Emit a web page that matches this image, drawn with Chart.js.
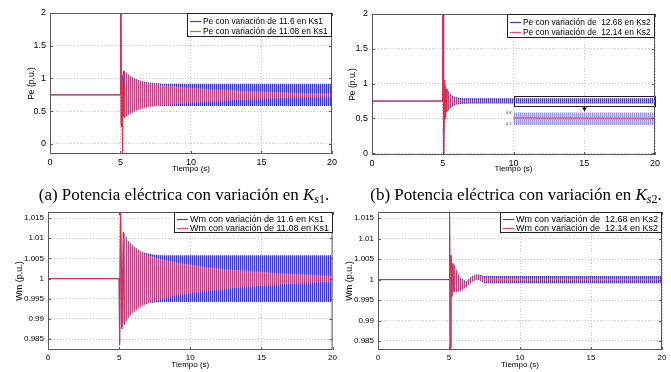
<!DOCTYPE html>
<html><head><meta charset="utf-8">
<script src="https://cdn.jsdelivr.net/npm/chart.js@4"></script>
<style>
html,body{margin:0;padding:0;background:#fff;width:671px;height:372px;overflow:hidden;}
canvas{position:absolute;}
.cap{position:absolute;font-family:"Liberation Serif","DejaVu Serif",serif;font-size:17px;color:#000;white-space:nowrap;transform:translateX(-50%);line-height:20px;}
.cap sub{font-size:12px;vertical-align:-3px;line-height:0;}
</style></head><body>
<canvas id="c1" width="340" height="176" style="left:0;top:0"></canvas>
<canvas id="c2" width="331" height="176" style="left:340px;top:0"></canvas>
<canvas id="c3" width="340" height="172" style="left:0;top:200px"></canvas>
<canvas id="c4" width="331" height="172" style="left:340px;top:200px"></canvas>
<div class="cap" style="left:184px;top:185px">(a) Potencia eléctrica con variación en <i>K</i><sub><i>s</i>1</sub>.</div>
<div class="cap" style="left:516px;top:185px">(b) Potencia eléctrica con variación en <i>K</i><sub><i>s</i>2</sub>.</div>
<script>
// ---------- axes ----------
const xTicks = [0, 5, 10, 15, 20];
const xTickLabels = ['0', '5', '10', '15', '20'];
const yTicksPe = [0, 0.5, 1, 1.5, 2];
const yTickLabelsPe = ['0', '0.5', '1', '1.5', '2'];
const yTicksWm = [0.985, 0.99, 0.995, 1, 1.005, 1.01, 1.015];
const yTickLabelsWm = ['0.985', '0.99', '0.995', '1', '1.005', '1.01', '1.015'];

// ---------- (a) Pe, Ks1 ----------
const peKs1Labels = ['Pe con variación de 11.6 en Ks1', 'Pe con variación de 11.08 en Ks1'];
const peKs1BlueSpikeT = [0, 5.0, 5.02, 5.05, 5.1, 5.15, 5.2, 5.25];
const peKs1BlueSpikeV = [0.75, 0.75, 2.3, 0.3, 1.05, 0.45, 1.1, 0.4];
const peKs1BlueBandT = [5.25, 5.6, 6, 6.5, 7, 7.5, 8, 20];
const peKs1BlueUpper = [1.12, 1.05, 1.0, 0.96, 0.94, 0.93, 0.92, 0.92];
const peKs1BlueLower = [0.4, 0.45, 0.5, 0.55, 0.57, 0.58, 0.58, 0.58];
const peKs1RedSpikeT = [0, 5.0, 5.02, 5.05, 5.08, 5.11, 5.14, 5.17, 5.2, 5.24, 5.28];
const peKs1RedSpikeV = [0.75, 0.75, 2.3, 0.26, 1.0, 0.45, -0.3, 0.9, 0.42, 1.12, 0.41];
const peKs1RedBandT = [5.28, 6, 7, 8, 9, 10, 11, 12, 13, 14, 15, 16, 17, 18, 19, 20];
const peKs1RedUpper = [1.12, 0.99, 0.93, 0.9, 0.88, 0.86, 0.845, 0.83, 0.82, 0.81, 0.8, 0.79, 0.785, 0.78, 0.775, 0.77];
const peKs1RedLower = [0.42, 0.5, 0.56, 0.59, 0.61, 0.63, 0.645, 0.66, 0.67, 0.68, 0.69, 0.7, 0.71, 0.715, 0.72, 0.73];

// ---------- (b) Pe, Ks2 ----------
const peKs2Labels = ['Pe con variación de  12.68 en Ks2', 'Pe con variación de  12.14 en Ks2'];
const peKs2BlueSpikeT = [0, 5.0, 5.02, 5.06, 5.1, 5.15, 5.2, 5.25, 5.3];
const peKs2BlueSpikeV = [0.75, 0.75, 2.3, 0.0, 0.5, 1.0, 0.52, 0.92, 0.6];
const peKs2BlueBandT = [5.3, 5.5, 5.75, 6, 6.5, 7, 8, 20];
const peKs2BlueUpper = [0.92, 0.86, 0.82, 0.8, 0.79, 0.79, 0.79, 0.79];
const peKs2BlueLower = [0.6, 0.64, 0.68, 0.7, 0.71, 0.715, 0.715, 0.715];
const peKs2RedSpikeT = [0, 5.0, 5.02, 5.06, 5.09, 5.13, 5.17, 5.21, 5.26, 5.31];
const peKs2RedSpikeV = [0.75, 0.75, 2.3, -0.1, 0.45, 1.05, 0.5, 0.95, 0.6, 0.9];
const peKs2RedBandT = [5.31, 5.5, 5.75, 6, 6.5, 7, 8, 10, 15, 20];
const peKs2RedUpper = [0.9, 0.84, 0.8, 0.78, 0.765, 0.76, 0.757, 0.755, 0.755, 0.755];
const peKs2RedLower = [0.6, 0.66, 0.7, 0.72, 0.735, 0.74, 0.743, 0.745, 0.745, 0.745];
// magnified inset
const insetT = [10, 20];
const insetBlueUpper = [0.585, 0.585];
const insetBlueLower = [0.405, 0.405];
const insetRed = [0.505, 0.5];
const insetTickText = ['0.8', '0.7'];
const insetTickVal = [0.575, 0.415];
const zoomBoxX = [10, 20];
const zoomBoxY = [0.68, 0.824];
const zoomArrowX = 15;
const zoomArrowY = [0.665, 0.6];

// ---------- Wm, Ks1 ----------
const wmKs1Labels = ['Wm con variación de 11.6 en Ks1', 'Wm con variación de 11.08 en Ks1'];
const wmKs1BlueSpikeT = [0, 5.0, 5.03, 5.1, 5.2, 5.3, 5.36];
const wmKs1BlueSpikeV = [1, 1, 0.9845, 1.017, 0.988, 1.0115, 0.9885];
const wmKs1BlueBandT = [5.36, 5.6, 6, 6.5, 7, 7.5, 8, 20];
const wmKs1BlueUpper = [1.0115, 1.0095, 1.008, 1.0068, 1.0062, 1.0059, 1.0058, 1.0058];
const wmKs1BlueLower = [0.9885, 0.99, 0.992, 0.9932, 0.9938, 0.9941, 0.9942, 0.9942];
const wmKs1RedSpikeT = [0, 5.0, 5.03, 5.1, 5.2, 5.3, 5.36];
const wmKs1RedSpikeV = [1, 1, 0.9835, 1.018, 0.9875, 1.0115, 0.989];
const wmKs1RedBandT = [5.36, 5.6, 6, 6.5, 7, 8, 9, 10, 11, 12, 13, 14, 15, 16, 17, 18, 19, 20];
const wmKs1RedUpper = [1.0112, 1.0095, 1.008, 1.0068, 1.0058, 1.0048, 1.004, 1.0034, 1.0029, 1.0025, 1.0022, 1.0019, 1.0017, 1.0014, 1.0012, 1.001, 1.0008, 1.0006];
const wmKs1RedLower = [0.9885, 0.99, 0.9915, 0.9928, 0.9938, 0.995, 0.9958, 0.9964, 0.9969, 0.9973, 0.9977, 0.998, 0.9982, 0.9985, 0.9987, 0.9989, 0.9991, 0.9993];

// ---------- Wm, Ks2 ----------
const wmKs2Labels = ['Wm con variación de  12.68 en Ks2', 'Wm con variación de  12.14 en Ks2'];
const wmKs2BlueSpikeT = [0, 5.0, 5.04, 5.08, 5.14, 5.2, 5.27, 5.33];
const wmKs2BlueSpikeV = [1, 1, 1.0155, 0.9835, 1.0058, 0.996, 1.0038, 0.9972];
const wmKs2BlueBandT = [5.33, 5.5, 5.8, 6.2, 6.6, 7.0, 7.5, 8, 20];
const wmKs2BlueUpper = [1.004, 1.0025, 1.0005, 0.9995, 1.0008, 1.0013, 1.0009, 1.0009, 1.0009];
const wmKs2BlueLower = [0.997, 0.997, 0.9972, 0.9982, 0.9994, 1.0001, 0.9991, 0.9991, 0.9991];
const wmKs2RedSpikeT = [0, 5.0, 5.04, 5.08, 5.14, 5.2, 5.27, 5.33];
const wmKs2RedSpikeV = [1, 1, 1.0158, 0.983, 1.006, 0.9958, 1.004, 0.997];
const wmKs2RedBandT = [5.33, 5.5, 5.8, 6.2, 6.6, 7.0, 7.5, 8, 10, 20];
const wmKs2RedUpper = [1.004, 1.0025, 1.0003, 0.9993, 1.0006, 1.0012, 1.0004, 1.0004, 1.0003, 1.0002];
const wmKs2RedLower = [0.997, 0.9968, 0.997, 0.998, 0.9993, 1.0002, 0.9994, 0.9996, 0.9997, 0.9998];

// ---------- styles ----------
const BLUE = '#3a3ae6';
const RED = '#ee2a3c';
const LEG_RED = '#f44a60';
function stripe(c1, c2) {
  const cv = document.createElement('canvas'); cv.width = 2; cv.height = 1;
  const g = cv.getContext('2d');
  g.fillStyle = c1; g.fillRect(0, 0, 1, 1);
  g.fillStyle = c2; g.fillRect(1, 0, 1, 1);
  return g.createPattern(cv, 'repeat');
}
const bluePat = stripe('#3c3cc8', '#b4b6f0');
const redPat = stripe('rgba(236,70,105,0.72)', 'rgba(248,188,200,0.55)');
const insetPat = stripe('#9c9ce8', '#cdcdf6');

function pts(t, v) { return t.map((x, i) => ({x: x, y: v[i]})); }
function band(t, u, l, pat, order) {
  return [
    {data: pts(t, u), fill: '+1', backgroundColor: pat, borderColor: 'rgba(0,0,0,0)', borderWidth: 1, pointRadius: 0, order: order},
    {data: pts(t, l), fill: false, borderColor: 'rgba(0,0,0,0)', borderWidth: 1, pointRadius: 0, order: order}
  ];
}
function line(t, v, color, w, order) {
  return {data: pts(t, v), fill: false, borderColor: color, borderWidth: w, pointRadius: 0, order: order};
}

const matPlugin = {
  id: 'mat',
  afterDatasetsDraw(chart, args, o) {
    const ctx = chart.ctx, a = chart.chartArea, xs = chart.scales.x, ys = chart.scales.y;
    ctx.save();
    ctx.setLineDash([]);
    if (o.zoom) {
      const x0 = xs.getPixelForValue(zoomBoxX[0]), x1 = xs.getPixelForValue(zoomBoxX[1]);
      const y0 = ys.getPixelForValue(zoomBoxY[1]), y1 = ys.getPixelForValue(zoomBoxY[0]);
      ctx.strokeStyle = '#222'; ctx.lineWidth = 1;
      ctx.strokeRect(Math.round(x0) + 0.5, Math.round(y0) + 0.5, Math.round(x1 - x0) - 1, Math.round(y1 - y0));
      const ax = Math.round(xs.getPixelForValue(zoomArrowX)) + 0.5;
      const ay0 = ys.getPixelForValue(zoomArrowY[0]), ay1 = ys.getPixelForValue(zoomArrowY[1]);
      ctx.beginPath(); ctx.moveTo(ax, ay0); ctx.lineTo(ax, ay1); ctx.stroke();
      ctx.fillStyle = '#111';
      ctx.beginPath(); ctx.moveTo(ax - 2.5, ay1 - 4); ctx.lineTo(ax + 2.5, ay1 - 4); ctx.lineTo(ax, ay1); ctx.closePath(); ctx.fill();
      ctx.font = '4px "Liberation Sans"'; ctx.textAlign = 'right'; ctx.textBaseline = 'middle'; ctx.fillStyle = '#333';
      insetTickText.forEach((t, i) => ctx.fillText(t, x0 - 2, ys.getPixelForValue(insetTickVal[i])));
    }
    // box
    ctx.strokeStyle = '#5a5a5a'; ctx.lineWidth = 1;
    ctx.strokeRect(a.left + 0.5, a.top + 0.5, a.right - a.left - 1, a.bottom - a.top - 1);
    ctx.beginPath();
    xs.ticks.forEach(t => { const p = Math.round(xs.getPixelForValue(t.value)) + 0.5;
      ctx.moveTo(p, a.bottom); ctx.lineTo(p, a.bottom - 3); ctx.moveTo(p, a.top); ctx.lineTo(p, a.top + 3); });
    ys.ticks.forEach(t => { const p = Math.round(ys.getPixelForValue(t.value)) + 0.5;
      ctx.moveTo(a.left, p); ctx.lineTo(a.left + 3, p); ctx.moveTo(a.right, p); ctx.lineTo(a.right - 3, p); });
    ctx.stroke();
    // legend
    ctx.font = o.legendFont;
    const tw = Math.max.apply(null, o.labels.map(l => ctx.measureText(l).width));
    const w = Math.round(tw + 20), h = o.legendH;
    const lx = Math.round(a.right - w), ly = a.top;
    ctx.fillStyle = '#fff'; ctx.fillRect(lx, ly, w, h);
    ctx.strokeStyle = '#222'; ctx.lineWidth = 1; ctx.strokeRect(lx + 0.5, ly + 0.5, w - 1, h - 1);
    ctx.textAlign = 'left'; ctx.textBaseline = 'middle';
    [BLUE, LEG_RED].forEach((c, i) => {
      const yy = Math.round(ly + o.legendRow[i]);
      ctx.strokeStyle = c; ctx.lineWidth = 1.2;
      ctx.beginPath(); ctx.moveTo(lx + 3, yy + 0.5); ctx.lineTo(lx + 14, yy + 0.5); ctx.stroke();
      ctx.fillStyle = '#000'; ctx.fillText(o.labels[i], lx + 16, yy + 0.5);
    });
    // axis titles
    ctx.fillStyle = '#000'; ctx.textAlign = 'center'; ctx.textBaseline = 'middle';
    ctx.font = o.xTitleFont;
    ctx.fillText('Tiempo (s)', (a.left + a.right) / 2, a.bottom + o.xTitleOff);
    ctx.font = o.yTitleFont;
    ctx.translate(a.left - o.yTitleOff, (a.top + a.bottom) / 2); ctx.rotate(-Math.PI / 2);
    ctx.fillText(o.yTitle, 0, 0);
    ctx.restore();
  }
};
Chart.register(matPlugin);
Chart.defaults.font.family = '"Liberation Sans", Arial, sans-serif';
Chart.defaults.color = '#000';

function makeChart(id, cfg) {
  const gridOpts = {color: '#c4c4c4', lineWidth: 1, drawTicks: false};
  const borderOpts = {display: false, dash: [1, 2]};
  return new Chart(document.getElementById(id), {
    type: 'line',
    data: {datasets: cfg.datasets},
    options: {
      responsive: false, animation: false, devicePixelRatio: 1,
      layout: {padding: cfg.padding},
      elements: {line: {tension: 0}, point: {radius: 0}},
      plugins: {legend: {display: false}, tooltip: {enabled: false}, mat: cfg.mat},
      scales: {
        x: {type: 'linear', min: 0, max: 20,
          afterBuildTicks: s => { s.ticks = xTicks.map(v => ({value: v})); },
          afterFit: s => { s.height = cfg.xH; },
          grid: gridOpts, border: borderOpts,
          ticks: {padding: 3, font: {size: cfg.tickSize}, maxRotation: 0, autoSkip: false,
            callback: v => xTickLabels[xTicks.indexOf(v)]}},
        y: {type: 'linear', min: cfg.yMin, max: cfg.yMax,
          afterBuildTicks: s => { s.ticks = cfg.yTicks.map(v => ({value: v})); },
          afterFit: s => { s.width = cfg.yW; },
          grid: gridOpts, border: borderOpts,
          ticks: {padding: 4, font: {size: cfg.tickSize}, autoSkip: false,
            callback: v => cfg.yLabels[cfg.yTicks.indexOf(v)]}}
      }
    }
  });
}

makeChart('c1', {
  padding: {left: 0, top: 13, right: 7, bottom: 0}, yW: 50, xH: 22, tickSize: 9,
  yMin: -0.153, yMax: 2, yTicks: yTicksPe, yLabels: yTickLabelsPe,
  datasets: [].concat(
    band(peKs1BlueBandT, peKs1BlueUpper, peKs1BlueLower, bluePat, 4),
    [line(peKs1BlueSpikeT, peKs1BlueSpikeV, BLUE, 1, 3)],
    band(peKs1RedBandT, peKs1RedUpper, peKs1RedLower, redPat, 2),
    [line(peKs1RedSpikeT, peKs1RedSpikeV, RED, 1, 1)]),
  mat: {labels: peKs1Labels, legendFont: '8.4px "Liberation Sans"', legendH: 24, legendRow: [8, 18],
    xTitleFont: '8px "Liberation Sans"', xTitleOff: 15, yTitleFont: '8.5px "Liberation Sans"', yTitleOff: 18.5, yTitle: 'Pe (p.u.)'}
});

makeChart('c2', {
  padding: {left: 0, top: 14, right: 16, bottom: 0}, yW: 32, xH: 21, tickSize: 9,
  yMin: -0.025, yMax: 2, yTicks: yTicksPe, yLabels: yTickLabelsPe,
  datasets: [].concat(
    band(peKs2BlueBandT, peKs2BlueUpper, peKs2BlueLower, bluePat, 4),
    [line(peKs2BlueSpikeT, peKs2BlueSpikeV, BLUE, 1, 3)],
    band(peKs2RedBandT, peKs2RedUpper, peKs2RedLower, redPat, 2),
    [line(peKs2RedSpikeT, peKs2RedSpikeV, RED, 1, 1)],
    band(insetT, insetBlueUpper, insetBlueLower, insetPat, 0.5),
    [line(insetT, insetRed, '#e8587e', 1.5, 0)]),
  mat: {zoom: true, labels: peKs2Labels, legendFont: '8.4px "Liberation Sans"', legendH: 24, legendRow: [8, 18],
    xTitleFont: '8px "Liberation Sans"', xTitleOff: 14, yTitleFont: '8.5px "Liberation Sans"', yTitleOff: 19, yTitle: 'Pe (p.u.)'}
});

makeChart('c3', {
  padding: {left: 0, top: 12, right: 7, bottom: 0}, yW: 48, xH: 22, tickSize: 8,
  yMin: 0.9823, yMax: 1.0165, yTicks: yTicksWm, yLabels: yTickLabelsWm,
  datasets: [].concat(
    band(wmKs1BlueBandT, wmKs1BlueUpper, wmKs1BlueLower, bluePat, 4),
    [line(wmKs1BlueSpikeT, wmKs1BlueSpikeV, BLUE, 1, 3)],
    band(wmKs1RedBandT, wmKs1RedUpper, wmKs1RedLower, redPat, 2),
    [line(wmKs1RedSpikeT, wmKs1RedSpikeV, RED, 1, 1)]),
  mat: {labels: wmKs1Labels, legendFont: '9px "Liberation Sans"', legendH: 21, legendRow: [6.5, 16],
    xTitleFont: '8px "Liberation Sans"', xTitleOff: 15, yTitleFont: '9px "Liberation Sans"', yTitleOff: 28, yTitle: 'Wm (p.u.)'}
});

makeChart('c4', {
  padding: {left: 0, top: 12, right: 9, bottom: 0}, yW: 38, xH: 22, tickSize: 8,
  yMin: 0.9828, yMax: 1.0165, yTicks: yTicksWm, yLabels: yTickLabelsWm,
  datasets: [].concat(
    band(wmKs2BlueBandT, wmKs2BlueUpper, wmKs2BlueLower, bluePat, 4),
    [line(wmKs2BlueSpikeT, wmKs2BlueSpikeV, BLUE, 1, 3)],
    band(wmKs2RedBandT, wmKs2RedUpper, wmKs2RedLower, redPat, 2),
    [line(wmKs2RedSpikeT, wmKs2RedSpikeV, RED, 1, 1)]),
  mat: {labels: wmKs2Labels, legendFont: '9px "Liberation Sans"', legendH: 21, legendRow: [6.5, 16],
    xTitleFont: '8px "Liberation Sans"', xTitleOff: 15, yTitleFont: '9px "Liberation Sans"', yTitleOff: 28, yTitle: 'Wm (p.u.)'}
});
</script>
</body></html>
